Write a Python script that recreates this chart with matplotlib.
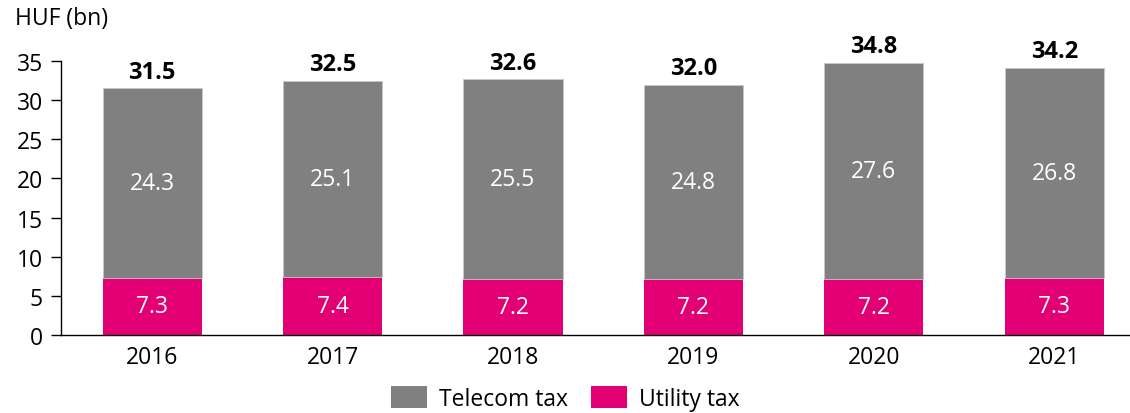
import matplotlib
matplotlib.use("Agg")
import matplotlib.pyplot as plt
from matplotlib.patches import Patch

years = ["2016", "2017", "2018", "2019", "2020", "2021"]
utility_tax = [7.3, 7.4, 7.2, 7.2, 7.2, 7.3]
telecom_tax = [24.3, 25.1, 25.5, 24.8, 27.6, 26.8]
totals = [31.5, 32.5, 32.6, 32.0, 34.8, 34.2]
yticks = [0, 5, 10, 15, 20, 25, 30, 35]

GRAY = "#808080"
MAGENTA = "#E20074"
plt.rcParams["font.family"] = ["Open Sans", "DejaVu Sans"]
FS = 16.5

fig = plt.figure(figsize=(11.3, 4.14), dpi=100)
ax = fig.add_axes([0.054, 0.1884, 0.946, 0.6616])

x = list(range(len(years)))
w = 0.55
ax.bar(x, utility_tax, width=w, color=MAGENTA, edgecolor="none", label="Utility tax")
ax.bar(x, telecom_tax, width=w, bottom=utility_tax, color=GRAY,
       edgecolor="#c8c8c8", linewidth=0.6, label="Telecom tax")

for xi, u, t, tot in zip(x, utility_tax, telecom_tax, totals):
    ax.text(xi, u / 2, f"{u:.1f}", ha="center", va="center", color="white", fontsize=FS)
    ax.text(xi, u + t / 2, f"{t:.1f}", ha="center", va="center", color="white", fontsize=FS)
    ax.text(xi, tot + 0.6, f"{tot:.1f}", ha="center", va="bottom", color="black",
            fontsize=17, fontweight="bold")

ax.set_xlim(-0.505, 5.42)
ax.set_ylim(0, 35)
ax.set_yticks(yticks)
ax.set_xticks(x)
ax.set_xticklabels(years)
ax.tick_params(axis="y", direction="out", length=7, width=1, labelsize=FS, pad=6)
ax.tick_params(axis="x", length=0, labelsize=FS, pad=7)
for s in ["top", "right"]:
    ax.spines[s].set_visible(False)
ax.spines["left"].set_linewidth(1)
ax.spines["bottom"].set_linewidth(1)

fig.text(0.013, 0.955, "HUF (bn)", ha="left", va="center", fontsize=FS)

handles = [Patch(facecolor=GRAY, label="Telecom tax"), Patch(facecolor=MAGENTA, label="Utility tax")]
fig.legend(handles=handles, loc="center", bbox_to_anchor=(0.5, 0.035), ncol=2, frameon=False,
           fontsize=FS, handlelength=1.6, handleheight=1.1, columnspacing=1.0, handletextpad=0.5)

fig.savefig("out.png", dpi=100)
